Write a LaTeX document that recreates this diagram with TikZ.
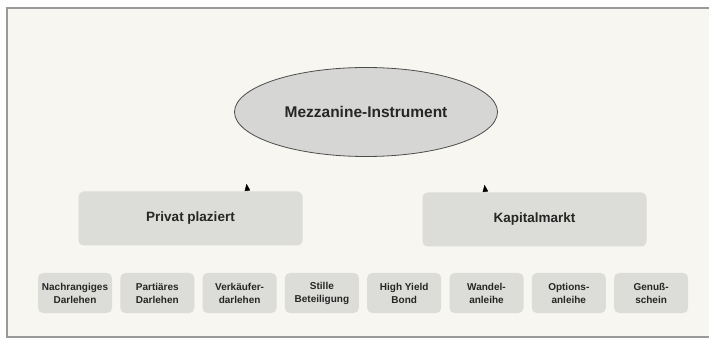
\documentclass[tikz,border=0pt]{standalone}
\usepackage{fontspec}
\setmainfont{Liberation Sans}
\usetikzlibrary{arrows.meta,positioning,shapes.geometric}

\definecolor{paper}{HTML}{F7F6F1}
\definecolor{boxgray}{HTML}{DCDCD8}
\definecolor{ovalgray}{HTML}{D6D6D4}

\begin{document}
\begin{tikzpicture}[x=1pt,y=1pt,
  top/.style={ellipse, draw=black!70, line width=0.8pt, fill=ovalgray,
    minimum width=263pt, minimum height=89pt,
    font=\fontsize{15.5}{18}\selectfont\bfseries, text=black!85},
  group/.style={rounded corners=5pt, fill=boxgray,
    minimum width=224pt, minimum height=54pt,
    font=\fontsize{13.5}{16}\selectfont\bfseries, text=black!85},
  item/.style={rounded corners=5pt, fill=boxgray, align=center,
    minimum width=74pt, minimum height=40pt, inner sep=1pt,
    font=\fontsize{10}{13}\selectfont\bfseries, text=black!85},
  tip/.style={-{Triangle[length=7pt,width=5.5pt]}, black}
]
  % Page and frame
  \useasboundingbox (0,0) rectangle (709,340);
  \clip (0,0) rectangle (709,340);
  \fill[paper!90!black!3] (0,0) rectangle (709,340);
  \fill[paper] (7,3) rectangle (720,332);
  \draw[black!40, line width=1.2pt] (7,3) rectangle (720,332);

  % Top level
  \node[top] (mezz) at (366,228) {Mezzanine-Instrument};

  % Second level
  \node[group] (privat) at (190.5,121.5) {Privat plaziert};
  \node[group] (kapital) at (534.5,120.5) {Kapitalmarkt};

  % Arrow heads towards the oval
  \coordinate (baseL) at ([xshift=57pt]privat.north);
  \coordinate (tipL) at ([xshift=56pt,yshift=7.5pt]privat.north);
  \coordinate (baseR) at ([xshift=-49pt]kapital.north);
  \coordinate (tipR) at ([xshift=-50pt,yshift=7.5pt]kapital.north);
  \draw[tip] (baseL) -- (tipL);
  \draw[tip] (baseR) -- (tipR);

  % Instruments
  \foreach \i/\txt in {1/{Nachrangiges\\Darlehen}, 2/{Partiäres\\Darlehen},
      3/{Verkäufer-\\darlehen}, 4/{Stille\\Beteiligung},
      5/{High Yield\\Bond}, 6/{Wandel-\\anleihe},
      7/{Options-\\anleihe}, 8/{Genuß-\\schein}} {
    \node[item] (inst\i) at (75+82.3*\i-82.3,47) {\txt};
  }
\end{tikzpicture}
\end{document}
